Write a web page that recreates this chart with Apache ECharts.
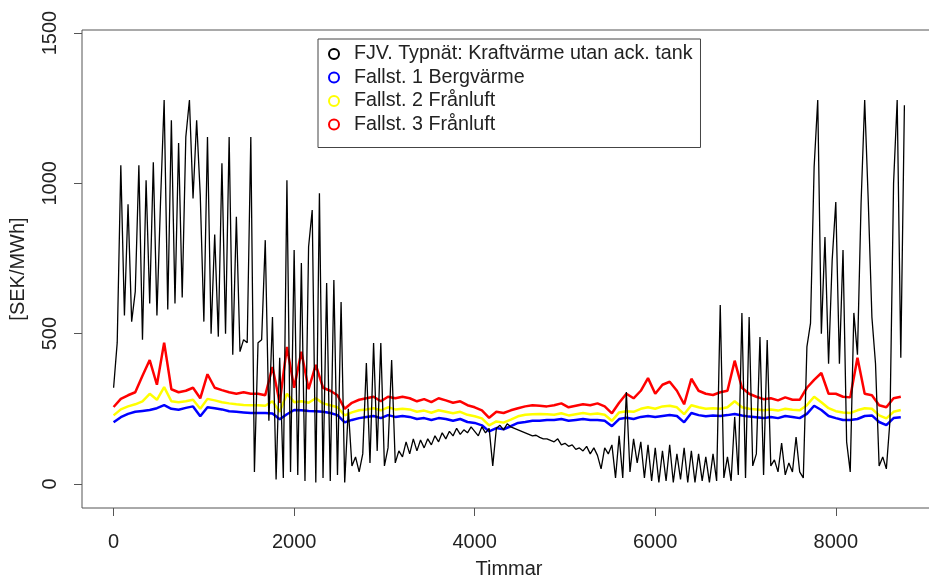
<!DOCTYPE html>
<html>
<head>
<meta charset="utf-8">
<script src="https://cdn.jsdelivr.net/npm/echarts@6/dist/echarts.min.js"></script>
<style>
  html, body { margin: 0; padding: 0; background: #fff; }
  #chart { width: 929px; height: 579px; }
</style>
</head>
<body>
<div id="chart"></div>
<script>
// hourly prices, one value every blackStep / colourStep hours
const blackStep = 40
const colourStep = 80

const fjvTypnat = [
  320, 470, 1060, 560, 930, 540, 640, 1060, 480, 1010,
  600, 1070, 560, 940, 1277, 580, 1210, 600, 1134, 620,
  1154, 1277, 950, 1210, 960, 540, 1154, 500, 830, 490,
  1067, 500, 1154, 430, 889, 440, 480, 470, 1154, 40,
  470, 480, 811, 210, 555, 15, 420, 20, 1010, 40,
  778, 30, 735, 10, 789, 911, 5, 967, 20, 668,
  10, 678, 30, 605, 5, 250, 60, 90, 40, 100,
  402, 70, 469, 110, 469, 60, 120, 412, 70, 110,
  90, 140, 100, 150, 110, 146, 120, 150, 130, 160,
  140, 170, 150, 175, 160, 185, 165, 180, 170, 190,
  175, 160, 190, 170, 185, 60, 185, 195, 180, 200,
  190, 185, 180, 175, 170, 165, 160, 162, 155, 150,
  150, 145, 140, 150, 130, 135, 125, 130, 115, 120,
  110, 125, 100, 120, 95, 50, 120, 100, 130, 20,
  160, 20, 306, 40, 150, 70, 140, 20, 130, 10,
  120, 5, 110, 10, 130, 5, 100, 15, 120, 5,
  110, 5, 100, 10, 90, 5, 100, 10, 595, 20,
  90, 10, 223, 30, 569, 20, 555, 60, 100, 489,
  30, 479, 60, 80, 40, 136, 30, 70, 40, 156,
  40, 20, 456, 535, 1054, 1277, 500, 821, 400, 745,
  938, 400, 778, 140, 40, 569, 430, 934, 1277, 938,
  555, 400, 60, 90, 50, 210, 1000, 1277, 420, 1260
]

const fallst1 = [
  205, 222, 233, 240, 243, 246, 252, 262, 250, 247,
  253, 258, 225, 255, 252, 248, 242, 240, 238, 236,
  236, 236, 234, 215, 232, 246, 245, 243, 242, 240,
  236, 229, 205, 213, 219, 223, 226, 219, 229, 223,
  226, 223, 216, 219, 213, 219, 216, 210, 216, 206,
  203, 195, 175, 186, 182, 192, 203, 206, 210, 210,
  213, 213, 216, 210, 213, 216, 213, 213, 210, 192,
  216, 220, 216, 223, 226, 223, 226, 229, 226, 205,
  236, 229, 225, 228, 226, 229, 233, 228, 224, 222,
  219, 223, 219, 226, 223, 219, 233, 260, 246, 226,
  219, 213, 213, 216, 226, 228, 206, 196, 219, 222
]

const fallst2 = [
  228, 248, 258, 265, 275, 300, 280, 322, 275, 272,
  275, 280, 250, 283, 278, 272, 268, 265, 263, 262,
  262, 260, 275, 240, 300, 272, 275, 270, 285, 268,
  262, 255, 228, 238, 245, 248, 252, 245, 255, 248,
  250, 248, 240, 244, 237, 245, 240, 235, 240, 230,
  225, 218, 195, 208, 204, 214, 225, 230, 232, 233,
  232, 230, 235, 228, 232, 236, 232, 234, 230, 210,
  238, 242, 240, 250, 255, 250, 258, 260, 255, 232,
  262, 255, 250, 252, 250, 255, 275, 255, 250, 248,
  245, 248, 244, 250, 247, 245, 262, 290, 272, 252,
  242, 238, 236, 245, 252, 250, 228, 218, 240, 246
]

const fallst3 = [
  256, 283, 295, 305, 360, 412, 330, 470, 315, 305,
  310, 320, 285, 365, 320, 312, 305, 300, 305, 300,
  300, 295, 389, 270, 456, 320, 440, 315, 396, 320,
  310, 295, 250, 270, 280, 285, 290, 275, 290, 285,
  290, 285, 275, 282, 272, 285, 278, 270, 275, 262,
  255, 245, 220, 240, 236, 245, 252, 258, 262, 260,
  258, 262, 268, 255, 260, 265, 262, 268, 258, 235,
  270, 300, 285, 310, 352, 300, 330, 340, 310, 265,
  350, 310, 300, 296, 305, 310, 410, 320, 300, 290,
  282, 285, 278, 288, 280, 280, 320, 346, 369, 300,
  300, 290, 288, 420, 300, 295, 262, 255, 285, 290
]

const seriesNames = [
  'FJV. Typnät: Kraftvärme utan ack. tank',
  'Fallst. 1 Bergvärme',
  'Fallst. 2 Frånluft',
  'Fallst. 3 Frånluft'
]
const xTicks = [0, 2000, 4000, 6000, 8000]
const yTicks = [0, 500, 1000, 1500]

const toPairs = (values, step) => values.map((v, i) => [i * step, v])

const font = 'Liberation Sans, Arial, Helvetica, sans-serif'
const boxColor = '#555'
const textColor = '#222'
const tickLen = 8

const chart = echarts.init(document.getElementById('chart'), null, { renderer: 'canvas' })

const lineSeries = (name, data, color, width, z) => ({
  name,
  type: 'line',
  xAxisIndex: 1,
  yAxisIndex: 1,
  data,
  showSymbol: false,
  symbol: 'emptyCircle',
  symbolSize: 10,
  lineStyle: { color, width },
  itemStyle: { color, borderWidth: 1 },
  z,
  silent: true,
  animation: false
})

// grid 0: the R box plus the axis titles
const titleAxis = (name, gap, rotate) => ({
  type: 'value',
  gridIndex: 0,
  min: 0,
  max: 1,
  name,
  nameLocation: 'middle',
  nameGap: gap,
  nameRotate: rotate,
  nameTextStyle: { fontFamily: font, fontSize: 20, color: textColor },
  axisLine: { show: false },
  axisTick: { show: false },
  axisLabel: { show: false },
  splitLine: { show: false }
})

// grid 1 is the box grown by the tick length on the left and bottom, so the
// outward ticks still fall inside it; the helper axis puts zero on the box edge
const helperAxis = (max) => ({ type: 'value', gridIndex: 1, min: -tickLen, max, show: false })

const dataAxis = (ticks, min, max, labelExtra) => ({
  type: 'value',
  gridIndex: 1,
  min,
  max,
  axisLine: { show: false, onZero: true, onZeroAxisIndex: 2 },
  axisTick: {
    show: true,
    inside: false,
    length: tickLen,
    customValues: ticks,
    lineStyle: { color: boxColor, width: 1 }
  },
  axisLabel: {
    customValues: ticks,
    formatter: (v) => String(v),
    fontFamily: font,
    fontSize: 20,
    color: textColor,
    ...labelExtra
  },
  splitLine: { show: false }
})

chart.setOption({
  backgroundColor: '#fff',
  animation: false,
  grid: [
    {
      left: 82,
      right: -7,
      top: 30,
      bottom: 71,
      outerBoundsMode: 'none',
      show: true,
      borderColor: boxColor,
      borderWidth: 1,
      backgroundColor: 'transparent'
    },
    {
      left: 82 - tickLen,
      right: -7,
      top: 30,
      bottom: 71 - tickLen,
      outerBoundsMode: 'none'
    }
  ],
  legend: {
    orient: 'vertical',
    left: 318,
    top: 39,
    data: seriesNames,
    icon: 'emptyCircle',
    itemWidth: 10,
    itemHeight: 10,
    itemGap: 3.5,
    padding: [5, 8, 13, 10],
    borderColor: '#444',
    borderWidth: 1,
    backgroundColor: '#fff',
    selectedMode: false,
    itemStyle: { borderWidth: 1 },
    textStyle: {
      fontFamily: font,
      fontSize: 19.7,
      color: textColor,
      lineHeight: 20,
      padding: [0, 0, 0, 10]
    }
  },
  xAxis: [
    titleAxis('Timmar', 51, 0),
    dataAxis(xTicks, -438.6, 9110, { margin: 16 }),
    helperAxis(854)
  ],
  yAxis: [
    titleAxis('[SEK/MWh]', 54, 90),
    dataAxis(yTicks, -106.6, 1510, { margin: 14, rotate: 90 }),
    helperAxis(478)
  ],
  series: [
    lineSeries(seriesNames[1], toPairs(fallst1, colourStep), '#0000ff', 2.5, 2),
    lineSeries(seriesNames[2], toPairs(fallst2, colourStep), '#ffff00', 2.5, 3),
    lineSeries(seriesNames[3], toPairs(fallst3, colourStep), '#ff0000', 2.5, 4),
    lineSeries(seriesNames[0], toPairs(fjvTypnat, blackStep), '#000000', 1.3, 5)
  ]
})

window.addEventListener('resize', () => chart.resize())
</script>
</body>
</html>
